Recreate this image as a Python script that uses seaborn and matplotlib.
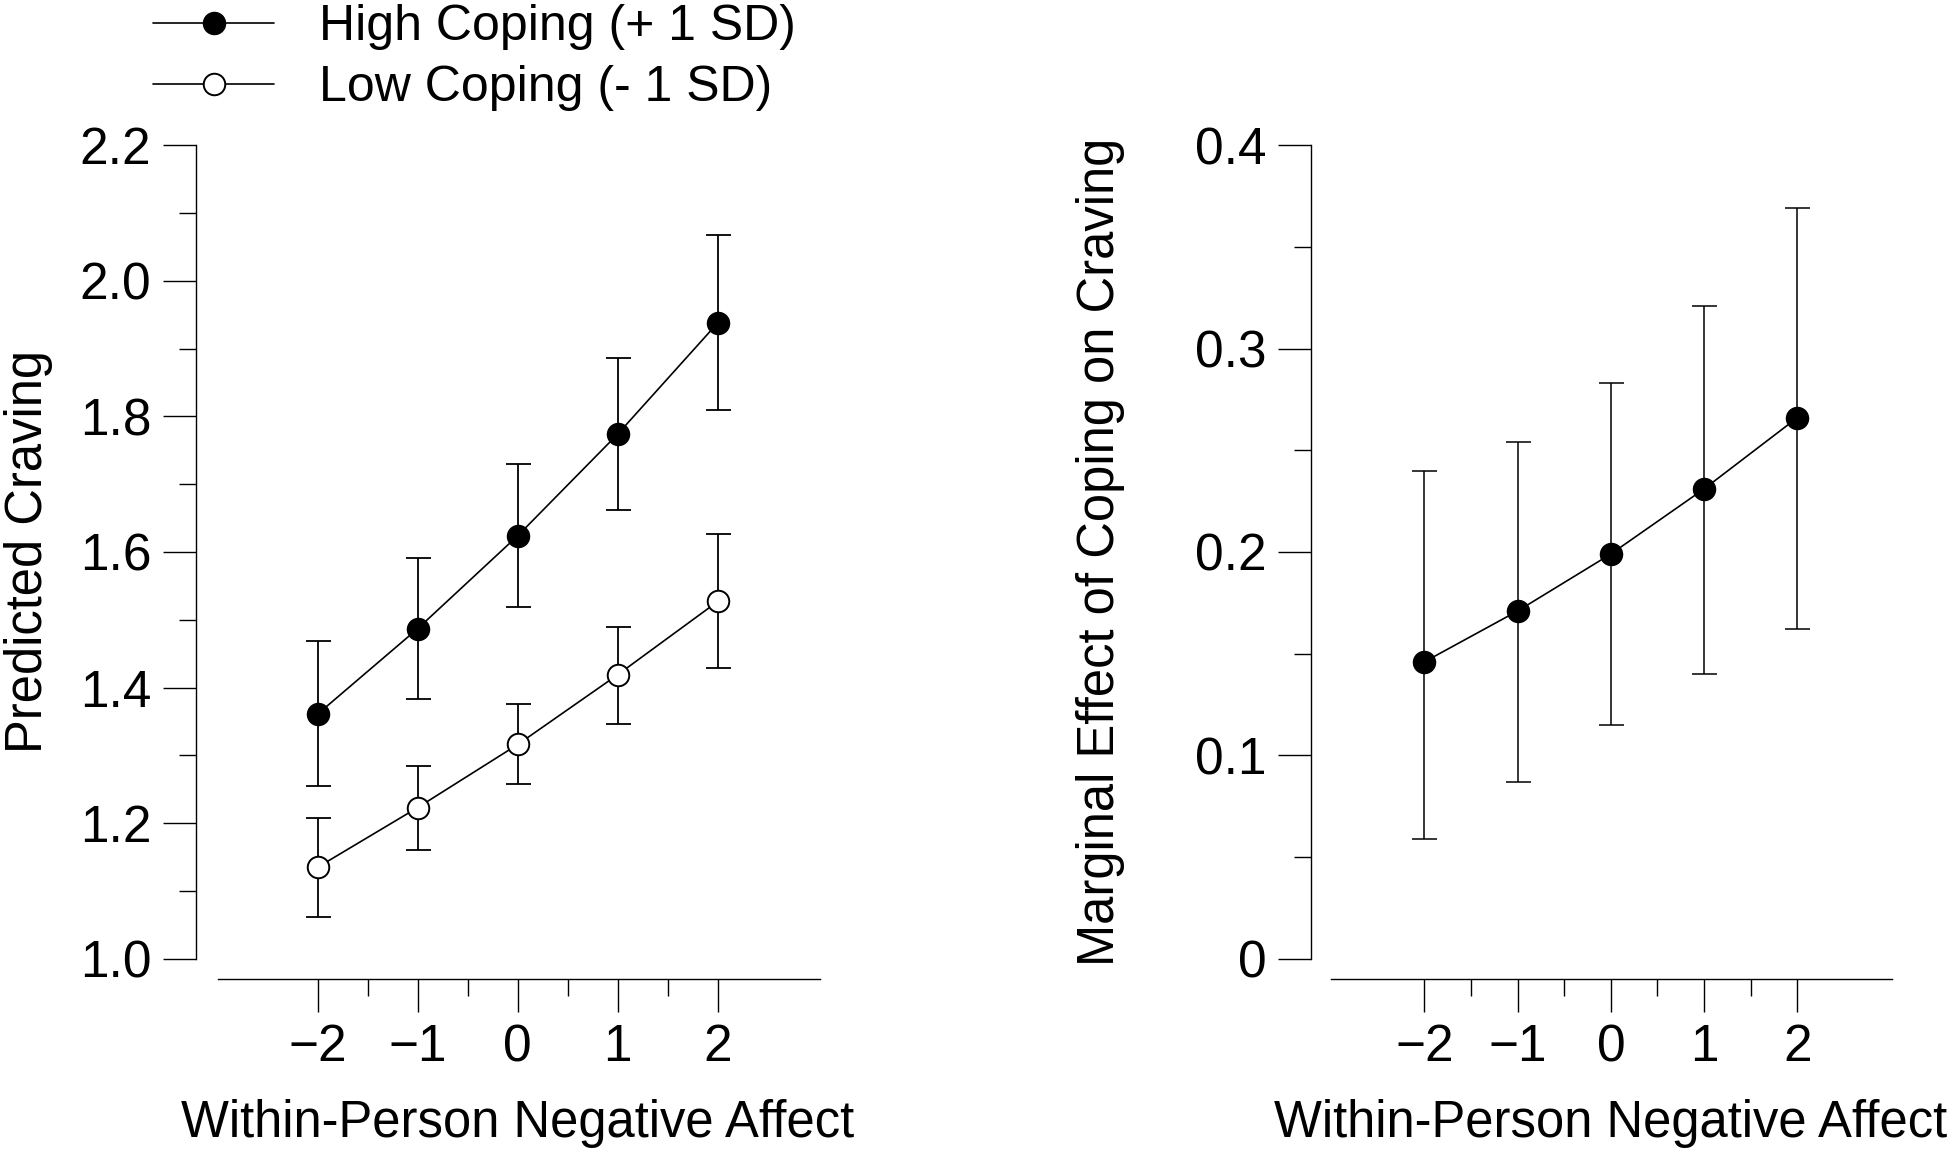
import numpy as np
import pandas as pd
import matplotlib
matplotlib.use("Agg")
import matplotlib.pyplot as plt
import seaborn as sns
from matplotlib.ticker import FixedLocator, FixedFormatter


############# Data #############

affect = [-2, -1, 0, 1, 2]

# Predicted craving (left panel)
high_coping = [1.361, 1.487, 1.624, 1.774, 1.938]
high_lower = [1.255, 1.383, 1.519, 1.662, 1.809]
high_upper = [1.468, 1.591, 1.730, 1.886, 2.067]

low_coping = [1.135, 1.223, 1.316, 1.419, 1.527]
low_lower = [1.061, 1.160, 1.257, 1.346, 1.429]
low_upper = [1.208, 1.284, 1.376, 1.490, 1.626]

# Marginal effect of coping (right panel)
marginal = [0.146, 0.171, 0.199, 0.231, 0.266]
marginal_lower = [0.059, 0.087, 0.115, 0.140, 0.162]
marginal_upper = [0.240, 0.254, 0.283, 0.321, 0.369]

left_yticks = [1.0, 1.2, 1.4, 1.6, 1.8, 2.0, 2.2]
left_yticklabels = ["1.0", "1.2", "1.4", "1.6", "1.8", "2.0", "2.2"]
right_yticks = [0, 0.1, 0.2, 0.3, 0.4]
right_yticklabels = ["0", "0.1", "0.2", "0.3", "0.4"]
xticks = [-2, -1, 0, 1, 2]
xticklabels = ["\u22122", "\u22121", "0", "1", "2"]

labels = ["High Coping (+ 1 SD)", "Low Coping (- 1 SD)"]
xlabel = "Within-Person Negative Affect"


############# Style #############

sns.set_theme(style="ticks")
plt.rcParams["font.family"] = ["Liberation Sans", "DejaVu Sans"]
plt.rcParams["axes.edgecolor"] = "black"
plt.rcParams["xtick.color"] = "black"
plt.rcParams["ytick.color"] = "black"
plt.rcParams["text.color"] = "black"
plt.rcParams["axes.labelcolor"] = "black"

TICK_FS = 37
LABEL_FS = 36.5
LEGEND_FS = 36
LW = 1.0
XMIN, XMAX = -3.22, 3.02


# Draw one series with its error bars
def draw_series(ax, x, y, lo, hi, face, label=None, elw=1.3):
    frame = pd.DataFrame({"x": x, "y": y})
    sns.lineplot(data=frame, x="x", y="y", ax=ax, color="black", linewidth=1.2,
                 marker="o", markersize=15.5, markerfacecolor=face,
                 markeredgecolor="black", markeredgewidth=1.4,
                 errorbar=None, legend=False, label=label, zorder=3)
    y = np.array(y)
    yerr = [y - np.array(lo), np.array(hi) - y]
    ax.errorbar(x, y, yerr=yerr, fmt="none", ecolor="black", elinewidth=elw,
                capsize=9, capthick=elw, zorder=1)


# Axis cosmetics shared by both panels
def style_axis(ax, yticks, yticklabels, yminor, ylabel, ylabelpad):
    ymin, ymax = yticks[0], yticks[-1]
    pad = (ymax - ymin) * 0.025
    ax.set_xlim(XMIN, XMAX)
    ax.set_ylim(ymin - pad, ymax)
    sns.despine(ax=ax)
    ax.spines["bottom"].set_bounds(-3, XMAX)
    ax.spines["left"].set_bounds(ymin, ymax)
    for s in ["bottom", "left"]:
        ax.spines[s].set_linewidth(LW)
    ax.xaxis.set_major_locator(FixedLocator(xticks))
    ax.xaxis.set_major_formatter(FixedFormatter(xticklabels))
    ax.xaxis.set_minor_locator(FixedLocator([-1.5, -0.5, 0.5, 1.5]))
    ax.yaxis.set_major_locator(FixedLocator(yticks))
    ax.yaxis.set_major_formatter(FixedFormatter(yticklabels))
    ax.yaxis.set_minor_locator(FixedLocator(yminor))
    ax.tick_params(which="major", length=24, width=LW, labelsize=TICK_FS, pad=8)
    ax.tick_params(which="minor", length=12, width=LW)
    # centre the labels on x = 0 and on the middle of the y spine
    x_mid = (0 - XMIN) / (XMAX - XMIN)
    y_mid = ((ymin + ymax) / 2 - (ymin - pad)) / (ymax - ymin + pad)
    ax.set_xlabel(xlabel, fontsize=LABEL_FS, labelpad=19, x=x_mid)
    ax.set_ylabel(ylabel, fontsize=LABEL_FS, labelpad=ylabelpad, y=y_mid)


############# Plot #############

fig = plt.figure(figsize=(19.5, 11.53), dpi=100)
ax1 = fig.add_axes([0.1004, 0.1509, 0.3200, 0.7231])
ax2 = fig.add_axes([0.6722, 0.1509, 0.2982, 0.7231])

draw_series(ax1, affect, high_coping, high_lower, high_upper, "black", labels[0])
draw_series(ax1, affect, low_coping, low_lower, low_upper, "white", labels[1])
style_axis(ax1, left_yticks, left_yticklabels,
           [1.1, 1.3, 1.5, 1.7, 1.9, 2.1], "Predicted Craving", 19.5)

draw_series(ax2, affect, marginal, marginal_lower, marginal_upper, "black", elw=1.1)
style_axis(ax2, right_yticks, right_yticklabels,
           [0.05, 0.15, 0.25, 0.35], "Marginal Effect of Coping on Craving", 50)

handles, labs = ax1.get_legend_handles_labels()
fig.legend(handles, labs, loc="center left", bbox_to_anchor=(0.0786, 0.950),
           frameon=False, fontsize=LEGEND_FS, handlelength=2.42, handletextpad=0.9,
           labelspacing=0.3, borderpad=0, borderaxespad=0)

fig.savefig("out.png", dpi=100)
